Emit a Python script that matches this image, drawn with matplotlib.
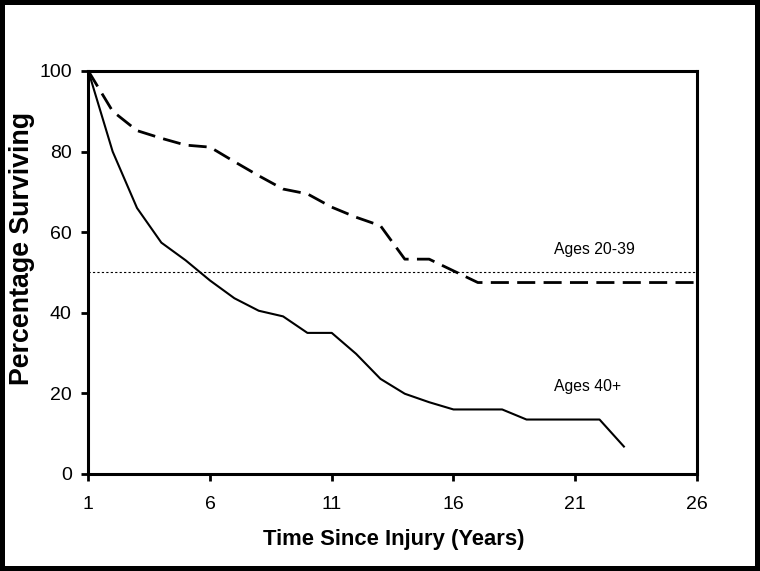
import matplotlib
matplotlib.use("Agg")
import matplotlib.pyplot as plt

# survival data
years_young = [1, 2, 3, 4, 5, 6, 7, 8, 9, 10, 11, 12, 13, 14, 15, 16, 17, 26]
surv_young = [100, 90, 85.2, 83.3, 81.6, 81.1, 77.5, 74, 70.7, 69.5, 66.2, 63.7, 61.6, 53.3, 53.3, 50.4, 47.5, 47.5]

years_old = list(range(1, 24))
surv_old = [100, 80, 66, 57.4, 53, 48, 43.6, 40.5, 39.1, 35, 35, 29.8, 23.6, 19.9,
            17.8, 16, 16, 16, 13.5, 13.5, 13.5, 13.5, 6.8]

median_line = 50
x_ticks = [1, 6, 11, 16, 21, 26]
y_ticks = [0, 20, 40, 60, 80, 100]

plt.rcParams['font.family'] = ['Liberation Sans', 'DejaVu Sans']

fig = plt.figure(figsize=(7.6, 5.71), dpi=100)
fig.patch.set_edgecolor('black')
fig.patch.set_linewidth(6)
ax = fig.add_axes([0.1162, 0.17, 0.8008, 0.7057])

ax.plot(years_young, surv_young, color='black', linewidth=2, dashes=(6.5, 3))
ax.plot(years_old, surv_old, color='black', linewidth=1.5)
ax.axhline(median_line, color='black', linewidth=0.8, dashes=(2, 2))

ax.text(21.77, 55.6, 'Ages 20-39', fontsize=11.3, ha='center', va='center')
ax.text(21.5, 21.7, 'Ages 40+', fontsize=11.3, ha='center', va='center')

ax.set_xlim(1, 26)
ax.set_ylim(0, 100)
ax.set_xticks(x_ticks)
ax.set_yticks(y_ticks)
ax.tick_params(axis='both', direction='out', length=5, width=2, labelsize=14)
ax.tick_params(axis='x', pad=11)
ax.tick_params(axis='y', pad=7)
for s in ax.spines.values():
    s.set_linewidth(2.2)

ax.set_xlabel('Time Since Injury (Years)', fontsize=15.8, fontweight='bold')
ax.set_ylabel('Percentage Surviving', fontsize=19.3, fontweight='bold')
ax.xaxis.set_label_coords(0.5015, -0.1365)
ax.yaxis.set_label_coords(-0.088, 0.56)

fig.savefig('out.png', dpi=100)
